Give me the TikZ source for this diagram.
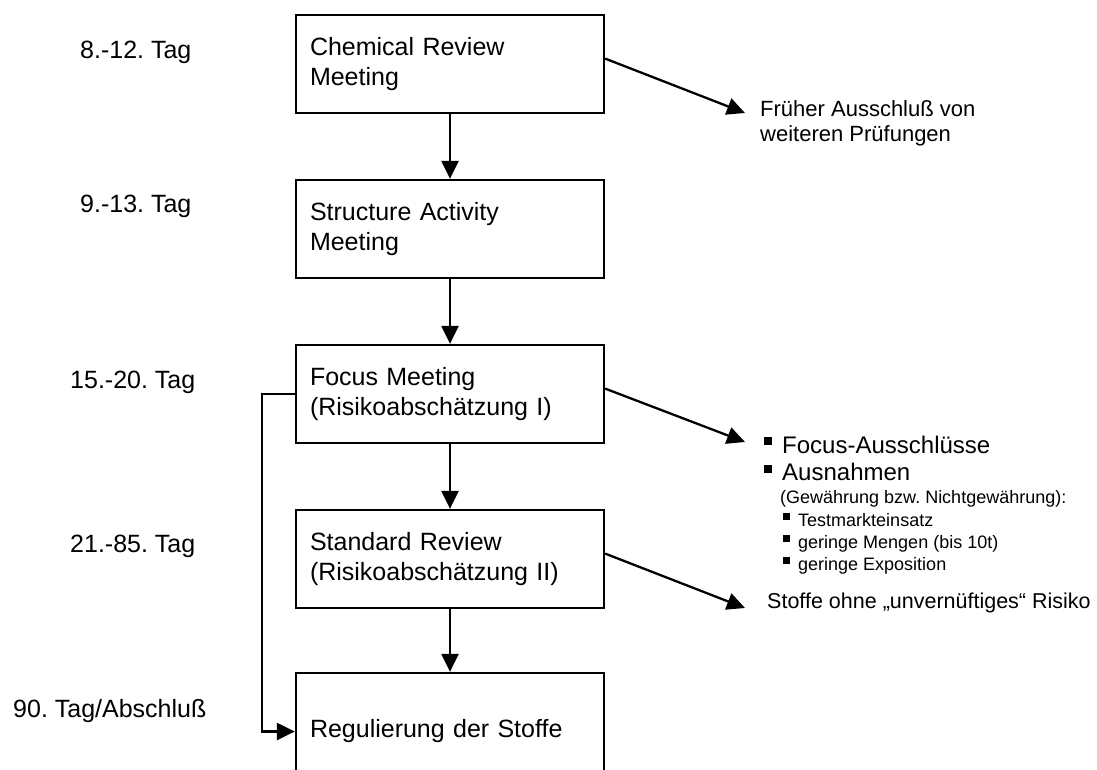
\documentclass[tikz,border=0pt]{standalone}
\usepackage{fontspec}
\setmainfont{Liberation Sans}
\usetikzlibrary{arrows.meta}
\frenchspacing

\begin{document}
\begin{tikzpicture}[x=1pt,y=-1pt,
  box/.style={draw, line width=2.3pt, minimum width=308pt, minimum height=98pt,
    text width=280pt, align=left, inner xsep=14pt, font=\fontsize{25}{30}\selectfont},
  arr/.style={line width=2.3pt, -{Triangle[length=18pt,width=17pt]}},
  day/.style={anchor=base west, inner sep=0pt, font=\fontsize{25}{30}\selectfont},
  note/.style={anchor=base west, inner sep=0pt, font=\fontsize{22}{26}\selectfont},
  item/.style={anchor=base west, inner sep=0pt, font=\fontsize{24}{28}\selectfont},
  small/.style={anchor=base west, inner sep=0pt, font=\fontsize{18}{22}\selectfont}]
\useasboundingbox (0,0) rectangle (1097,769);

% phases
\foreach \txt/\y [count=\n] in {
{Chemical Review\\Meeting}/64,
{Structure Activity\\Meeting}/229,
{Focus Meeting\\(Risikoabschätzung I)}/394,
{Standard Review\\(Risikoabschätzung II)}/559} {
\node[box] (b\n) at (450,\y) {\txt};
}
\node[box, minimum height=117pt] (b5) at (450,731.5) {Regulierung der Stoffe};

\foreach \a/\b in {b1/b2,b2/b3,b3/b4,b4/b5} {
\draw[arr] (\a) -- (\b);
}
\draw[arr] (b3.west) -- ++(-33,0) |- (b5.west);

% days
\foreach \txt/\x/\y [count=\n] in {
8.-12. Tag/80/58,
9.-13. Tag/80/212,
15.-20. Tag/70/388,
21.-85. Tag/70/552,
{90. Tag/Abschluß}/13/717} {
\node[day] (d\n) at (\x,\y) {\txt};
}

% results
\coordinate (t1) at (745,113);
\coordinate (t3) at (745,442);
\coordinate (t4) at (745,608);
\draw[arr] (b1.2) -- (t1);
\draw[arr] (b3.2) -- (t3);
\draw[arr] (b4.2) -- (t4);

\node[note] (r1) at (760,116) {Früher Ausschluß von};
\node[note] (r2) at (760,141) {weiteren Prüfungen};

\fill (764,437) rectangle ++(8,8);
\node[item] (f1) at (782,453) {Focus-Ausschlüsse};
\fill (764,465) rectangle ++(8,8);
\node[item] (f2) at (782,480) {Ausnahmen};
\node[small] (f3) at (780,503) {(Gewährung bzw. Nichtgewährung):};
\foreach \txt/\y [count=\n] in {
Testmarkteinsatz/526,
geringe Mengen (bis 10t)/548,
geringe Exposition/570} {
\fill (783,\y-13) rectangle ++(7,7);
\node[small] (g\n) at (798,\y) {\txt};
}

\node[note, font=\fontsize{21.5}{26}\selectfont] (r4) at (767,608) {Stoffe ohne „unvernüftiges“ Risiko};
\end{tikzpicture}
\end{document}
